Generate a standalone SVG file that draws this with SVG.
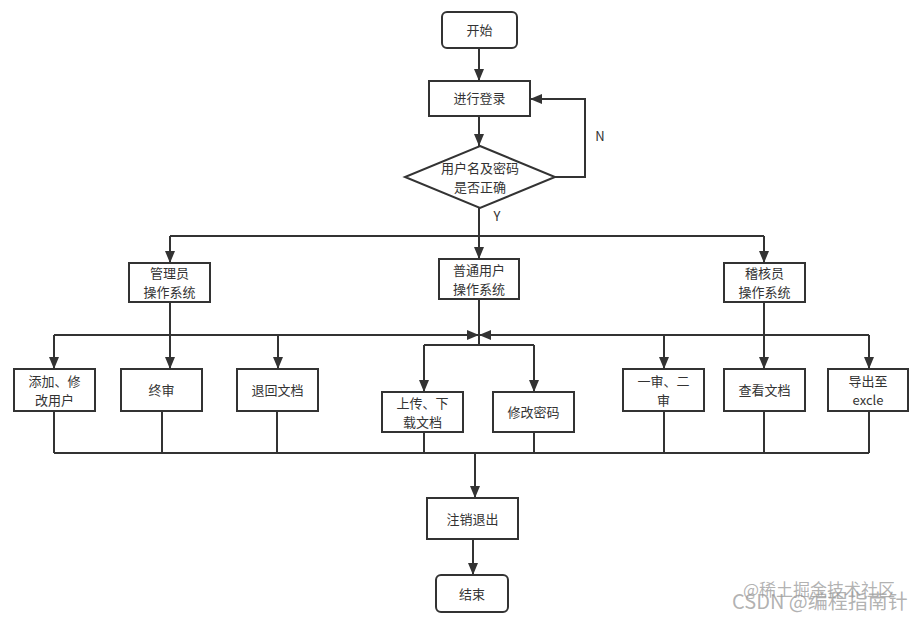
<svg xmlns="http://www.w3.org/2000/svg" width="919" height="621" viewBox="0 0 919 621">
<defs>
<marker id="ah" markerUnits="userSpaceOnUse" markerWidth="12" markerHeight="10" refX="12" refY="5" orient="auto">
<path d="M0,0 L12,5 L0,10 z" fill="#333"/>
</marker>
<style>
.box{fill:#fff;stroke:#333;stroke-width:2}
.t{font-family:"Noto Sans CJK SC","Liberation Sans",sans-serif;font-size:13px;fill:#333;text-anchor:middle}
.c{fill:none;stroke:#333;stroke-width:2}
.a{fill:none;stroke:#333;stroke-width:2;marker-end:url(#ah)}
.wm{font-family:"Noto Sans CJK SC","Liberation Sans",sans-serif;fill:#999;fill-opacity:0.75}
</style>
</defs>
<rect width="919" height="621" fill="#fff"/>
<g id="connectors">
<path class="a" d="M479,48 V81"/>
<path class="a" d="M479,116 V146"/>
<path class="a" d="M555,177 H585 V99 H530"/>
<path class="c" d="M479,208 V236 M170,236 H764"/>
<path class="a" d="M170,236 V263"/>
<path class="a" d="M479,236 V259"/>
<path class="a" d="M764,236 V263"/>
<path class="c" d="M170,302 V335"/>
<path class="a" d="M54,335 H479"/>
<path class="a" d="M54,335 V369"/>
<path class="a" d="M170,335 V369"/>
<path class="a" d="M278,335 V369"/>
<path class="c" d="M479,299 V345 M424,345 H534"/>
<path class="a" d="M424,345 V392"/>
<path class="a" d="M534,345 V392"/>
<path class="c" d="M764,302 V335"/>
<path class="a" d="M869,335 H479"/>
<path class="a" d="M664,335 V369"/>
<path class="a" d="M764,335 V369"/>
<path class="a" d="M869,335 V369"/>
<path class="c" d="M54,411 V453 M162,411 V453 M277,411 V453 M424,432 V453 M534,432 V453 M664,411 V453 M764,411 V453 M869,411 V453 M54,453 H869"/>
<path class="a" d="M475,453 V498"/>
<path class="a" d="M473,539 V575"/>
</g>
<text class="t" x="600" y="141">N</text>
<text class="t" x="497" y="221">Y</text>
<g id="start"><rect class="box" x="442" y="12" width="75" height="36" rx="5"/><text class="t" x="479.5" y="35">开始</text></g>
<g id="login"><rect class="box" x="429" y="81" width="101" height="35"/><text class="t" x="479.5" y="103">进行登录</text></g>
<g id="check"><path class="box" d="M480,146 L555,177 L480,208 L405,177 z"/><text class="t" x="480" y="173">用户名及密码<tspan x="480" dy="19">是否正确</tspan></text></g>
<g id="admin"><rect class="box" x="129" y="263" width="81" height="39"/><text class="t" x="169.5" y="278">管理员<tspan x="169.5" dy="19">操作系统</tspan></text></g>
<g id="user"><rect class="box" x="439" y="259" width="80" height="40"/><text class="t" x="479" y="274.5">普通用户<tspan x="479" dy="19">操作系统</tspan></text></g>
<g id="auditor"><rect class="box" x="724" y="263" width="81" height="39"/><text class="t" x="764.5" y="278">稽核员<tspan x="764.5" dy="19">操作系统</tspan></text></g>
<g id="adduser"><rect class="box" x="14" y="369" width="81" height="42"/><text class="t" x="54.5" y="385.5">添加、修<tspan x="54.5" dy="19">改用户</tspan></text></g>
<g id="final"><rect class="box" x="121" y="369" width="81" height="42"/><text class="t" x="161.5" y="395">终审</text></g>
<g id="return"><rect class="box" x="237" y="369" width="81" height="42"/><text class="t" x="277.5" y="395">退回文档</text></g>
<g id="updown"><rect class="box" x="382" y="392" width="81" height="40"/><text class="t" x="422.5" y="407.5">上传、下<tspan x="422.5" dy="19">载文档</tspan></text></g>
<g id="pwd"><rect class="box" x="493" y="392" width="81" height="40"/><text class="t" x="533.5" y="417">修改密码</text></g>
<g id="review"><rect class="box" x="623" y="369" width="81" height="42"/><text class="t" x="663.5" y="385.5">一审、二<tspan x="663.5" dy="19">审</tspan></text></g>
<g id="view"><rect class="box" x="724" y="369" width="81" height="42"/><text class="t" x="764.5" y="395">查看文档</text></g>
<g id="export"><rect class="box" x="828" y="369" width="80" height="42"/><text class="t" x="868" y="385.5">导出至<tspan x="868" dy="19">excle</tspan></text></g>
<g id="logout"><rect class="box" x="427" y="498" width="91" height="41"/><text class="t" x="472.5" y="523.5">注销退出</text></g>
<g id="end"><rect class="box" x="436" y="575" width="72" height="37" rx="5"/><text class="t" x="472" y="598.5">结束</text></g>
<text class="wm" x="743" y="596" font-size="17">@稀土掘金技术社区<tspan x="732" dy="13" font-size="20">CSDN @编程指南针</tspan></text>
</svg>
